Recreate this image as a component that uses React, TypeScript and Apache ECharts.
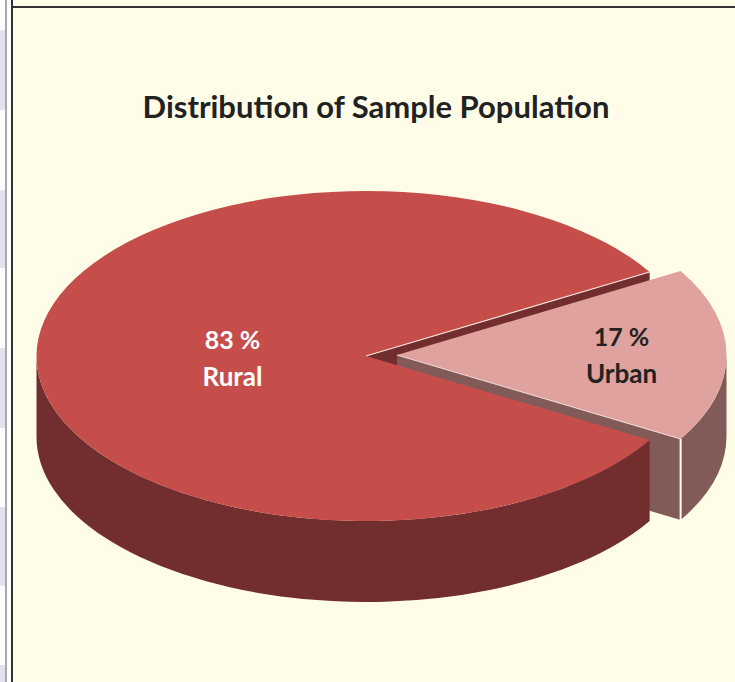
import React, { useEffect, useRef } from "react";
import * as echarts from "echarts";

const categories = ["Urban", "Rural"];
const shares = [17, 83];
const percentLabels = ["17 %", "83 %"];
const chartTitle = "Distribution of Sample Population";

const W = 735;
const H = 682;
const FONT = "Lato, Carlito, 'Open Sans', sans-serif";
const DEPTH = 81;
const RY = 165;
const RX = 329.5;
const GEOM = [
  { cx: 397, cy: 355, top: "#E0A29F", wall: "#825B58", text: "#222222", lx: 621.5, ly: 335.5 },
  { cx: 366, cy: 356, top: "#C64E4A", wall: "#722E2E", text: "#FFFFFF", lx: 232.5, ly: 338.5 },
];

const renderItem = (params: any, api: any) => {
  const i = params.dataIndex;
  const g = GEOM[i];
  const half = ((shares[0] / 100) * 360 * Math.PI) / 360;
  const pt = (a: number, dy = 0, c = g) => [c.cx + RX * Math.cos(a), c.cy + RY * Math.sin(a) + dy];
  const arc = (to: number, dy: number, large: number, sweep: number, c = g) => {
    const p = pt(to, dy, c);
    return `A${RX} ${RY} 0 ${large} ${sweep} ${p[0]} ${p[1]}`;
  };
  const children: any[] = [];
  const share = api.value(0);
  const label = percentLabels[i];

  if (i === 0) {
    const r = GEOM[1];
    const farCorner = pt(-half, 0, r);
    // the rural slice's far cut wall, seen through the gap left by the pulled-out slice
    children.push({
      type: "polygon",
      shape: { points: [[r.cx, r.cy], farCorner, [farCorner[0], farCorner[1] + DEPTH], [r.cx, r.cy + DEPTH]] },
      style: { fill: r.wall },
    });
    const c1 = pt(half);
    // urban cut wall
    children.push({
      type: "polygon",
      shape: { points: [[g.cx, g.cy], c1, [c1[0], c1[1] + DEPTH], [g.cx, g.cy + DEPTH]] },
      style: { fill: g.wall },
    });
    // urban outer wall
    const s = pt(0);
    const eb = pt(half, DEPTH);
    children.push({
      type: "path",
      shape: {
        pathData: `M${s[0]} ${s[1]}${arc(half, 0, 0, 1)}L${eb[0]} ${eb[1]}${arc(0, DEPTH, 0, 0)}Z`,
      },
      style: { fill: g.wall },
    });
    // urban top
    const u1 = pt(-half);
    children.push({
      type: "path",
      shape: {
        pathData: `M${g.cx} ${g.cy}L${u1[0]} ${u1[1]}${arc(half, 0, 0, 1)}Z`,
      },
      style: { fill: g.top },
    });
    // highlights
    children.push({
      type: "line",
      shape: { x1: g.cx, y1: g.cy, x2: c1[0], y2: c1[1] },
      style: { stroke: "#F3D9D6", lineWidth: 1 },
    });
    children.push({
      type: "line",
      shape: { x1: c1[0], y1: c1[1], x2: c1[0], y2: c1[1] + DEPTH },
      style: { stroke: "#FFFDF0", lineWidth: 2 },
    });
  } else {
    const a0 = half;
    const eb = pt(Math.PI, DEPTH);
    const s = pt(a0);
    // rural outer wall
    children.push({
      type: "path",
      shape: {
        pathData: `M${s[0]} ${s[1]}${arc(Math.PI, 0, 0, 1)}L${eb[0]} ${eb[1]}${arc(a0, DEPTH, 0, 0)}Z`,
      },
      style: { fill: g.wall },
    });
    // rural top
    const far = pt(-half);
    children.push({
      type: "path",
      shape: {
        pathData: `M${g.cx} ${g.cy}L${s[0]} ${s[1]}${arc(-half, 0, 1, 1)}Z`,
      },
      style: { fill: g.top },
    });
    children.push({
      type: "line",
      shape: { x1: g.cx, y1: g.cy, x2: far[0], y2: far[1] },
      style: { stroke: "#F6E3DC", lineWidth: 1.2 },
    });
  }

  children.push({
    type: "text",
    style: {
      x: g.lx, y: g.ly, text: label, fill: g.text,
      font: `bold 25px ${FONT}`, align: "center", verticalAlign: "middle",
    },
  });
  children.push({
    type: "text",
    style: {
      x: g.lx, y: g.ly + 37, text: categories[i], fill: g.text,
      font: `bold 26px ${FONT}`, align: "center", verticalAlign: "middle",
    },
  });
  return { type: "group", children, info: share };
};

export default function App() {
  const ref = useRef<HTMLDivElement>(null);
  useEffect(() => {
    const chart = echarts.init(ref.current!, null, { renderer: "svg" });
    const stripes = [[30, 80], [190, 78], [348, 80], [507, 79], [665, 17]];
    chart.setOption({
      animation: false,
      backgroundColor: "#FFFFFF",
      title: {
        text: chartTitle,
        left: 371,
        top: 85,
        textAlign: "center",
        textStyle: { fontFamily: FONT, fontWeight: "bold", fontSize: 31, color: "#222222" },
      },
      graphic: [
        ...stripes.map(([y, h]) => ({
          type: "rect", z: -1, shape: { x: 0, y, width: 5, height: h }, style: { fill: "#E2E3EE" },
        })),
        { type: "rect", z: -1, shape: { x: 5, y: 0, width: 2, height: H }, style: { fill: "#A9A9AC" } },
        { type: "rect", z: -1, shape: { x: 13, y: 0, width: W - 13, height: H }, style: { fill: "#FFFDE8" } },
        { type: "rect", z: -1, shape: { x: 11, y: 0, width: 2, height: H }, style: { fill: "#333333" } },
        { type: "rect", z: -1, shape: { x: 13, y: 6, width: W - 13, height: 2 }, style: { fill: "#333333" } },
      ],
      series: [
        {
          type: "custom",
          coordinateSystem: "none",
          silent: true,
          renderItem,
          data: categories.map((name, i) => ({ name, value: [shares[i]] })),
        },
      ],
    });
    return () => chart.dispose();
  }, []);
  return <div ref={ref} style={{ position: "fixed", left: 0, top: 0, width: W, height: H }} />;
}
